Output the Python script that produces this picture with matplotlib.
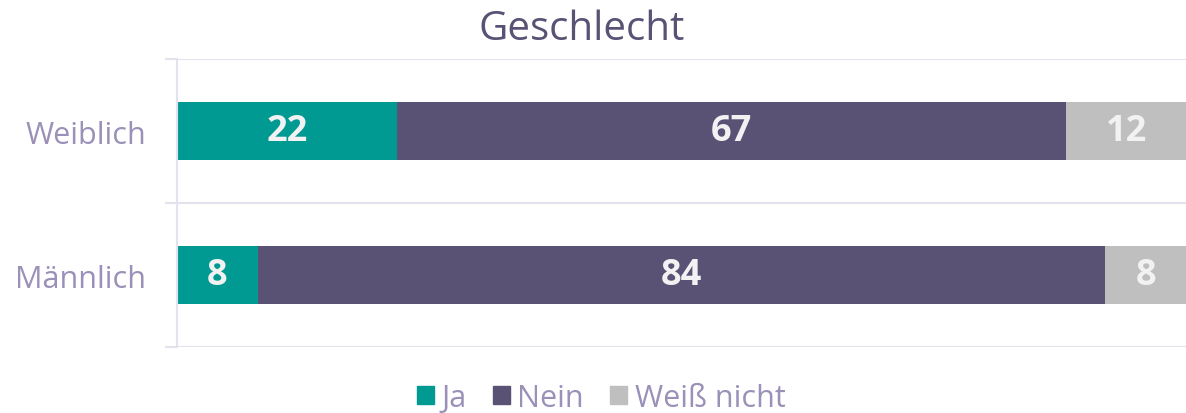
import numpy as np
import matplotlib.pyplot as plt
from matplotlib.patches import Patch

# data
categories = ['Männlich', 'Weiblich']
series = ['Ja', 'Nein', 'Weiß nicht']
ja = [8, 22]
nein = [84, 67]
weiss_nicht = [8, 12]
colors = ['#009A93', '#5A5275', '#BFBFBF']

plt.rcParams['font.family'] = ['Open Sans', 'DejaVu Sans']

vals = np.array([ja, nein, weiss_nicht], dtype=float)
totals = vals.sum(axis=0)
pct = vals / totals * 100

fig = plt.figure(figsize=(11.86, 4.14), dpi=100)
ax = fig.add_axes([0.1492, 0.1594, 0.8508, 0.6956])

y = np.arange(len(categories))
left = np.zeros(len(categories))
for i, name in enumerate(series):
    bars = ax.barh(y, pct[i], left=left, height=0.4, color=colors[i], label=name)
    for j, b in enumerate(bars):
        ax.text(left[j] + pct[i][j] / 2, y[j], f'{int(vals[i][j])}',
                ha='center', va='center', color='#F2F2F2',
                fontsize=26, fontweight='bold')
    left += pct[i]

ax.set_xlim(0, 100)
ax.set_ylim(-0.5, 1.5)
ax.set_xticks([])
ax.set_yticks(y)
ax.set_yticklabels(categories, fontsize=22, color='#9A90B8')
ax.tick_params(axis='y', which='major', length=0, pad=22)
ax.set_yticks([-0.5, 0.5, 1.5], minor=True)
ax.tick_params(axis='y', which='minor', length=9, width=1.5, color='#E4E2EC')
ax.grid(axis='y', which='minor', color='#E4E2EC', linewidth=1.5)
ax.set_axisbelow(True)
for s in ['top', 'right', 'bottom']:
    ax.spines[s].set_visible(False)
ax.spines['left'].set_color('#E4E2EC')
ax.spines['left'].set_linewidth(1.5)

fig.text(0.4905, 1 - 40 / 414, 'Geschlecht', ha='center', va='baseline',
         fontsize=29, color='#5A5275')

handles = [Patch(color=c, label=s) for c, s in zip(colors, series)]
leg = fig.legend(handles=handles, loc='center', bbox_to_anchor=(0.507, 0.036),
                 ncol=3, frameon=False, fontsize=22, handlelength=0.55,
                 handleheight=0.55, handletextpad=0.25, columnspacing=0.85,
                 borderpad=0)
for t in leg.get_texts():
    t.set_color('#9A90B8')

fig.savefig('out.png', dpi=100)
